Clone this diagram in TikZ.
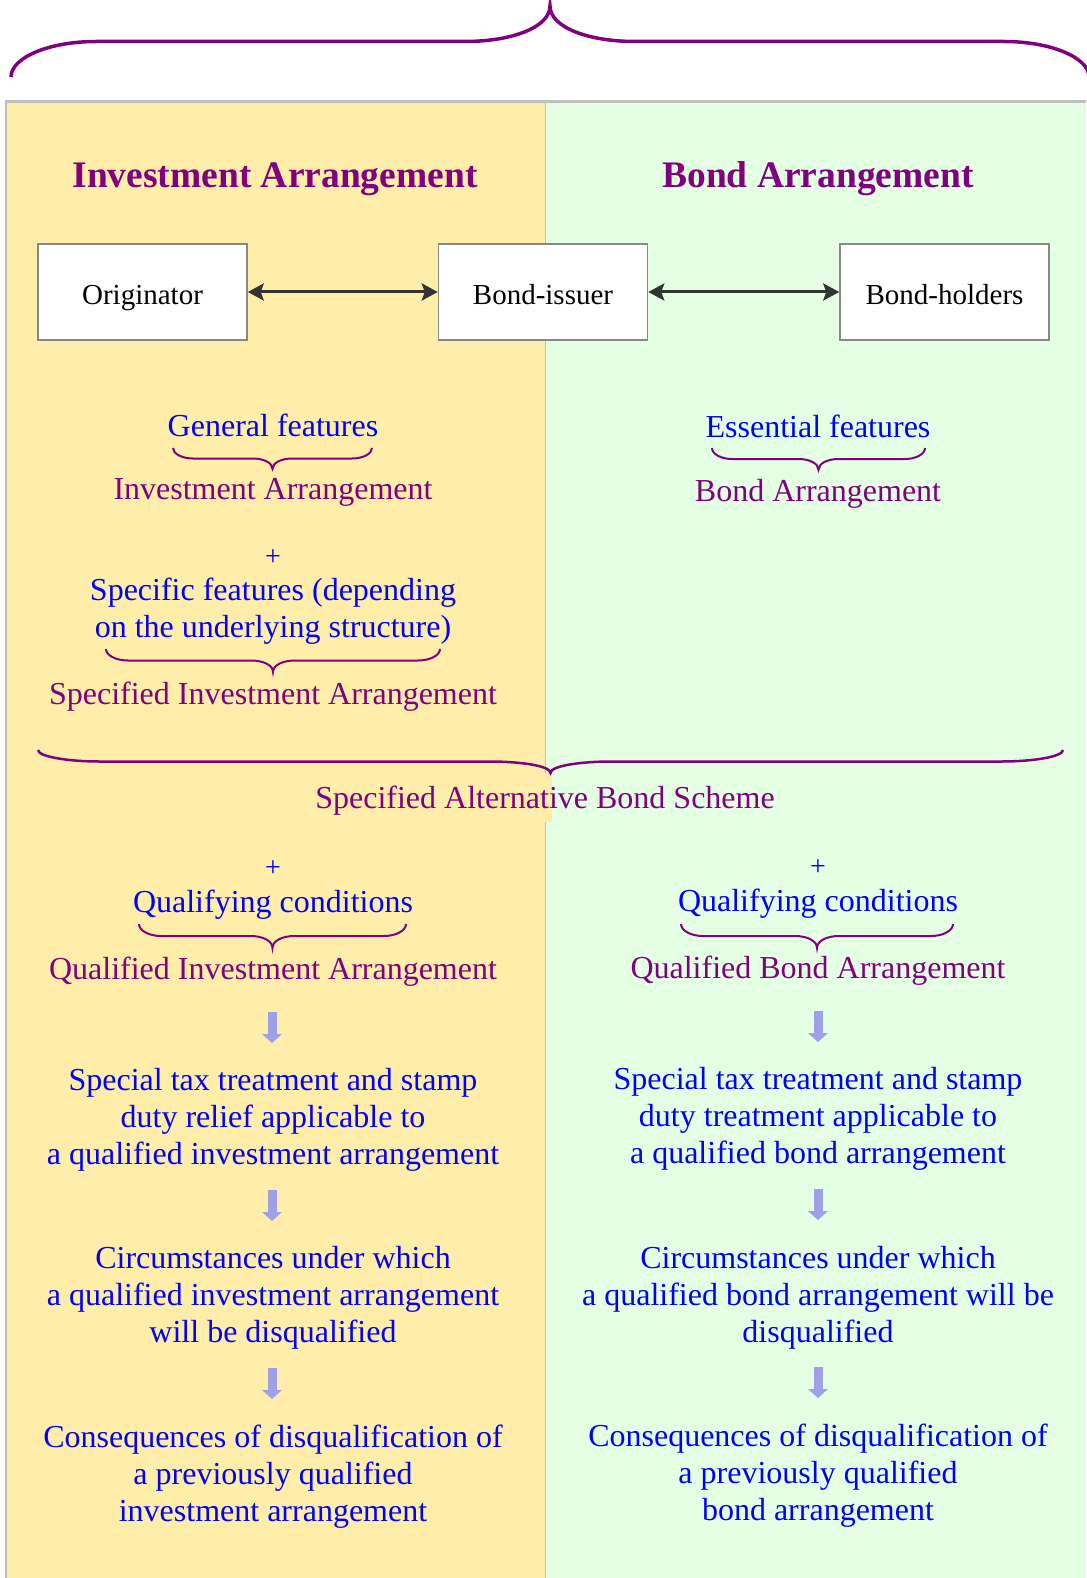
\documentclass[tikz,border=0pt]{standalone}
\usepackage{fontspec}
\setmainfont{Liberation Serif}
\usetikzlibrary{arrows.meta}
\definecolor{yellowc}{RGB}{255,238,170}
\definecolor{greenc}{RGB}{229,255,229}
\definecolor{grayc}{RGB}{191,191,191}
\definecolor{purplec}{RGB}{128,0,128}
\definecolor{bluec}{RGB}{0,0,255}
\definecolor{arrowc}{RGB}{160,160,232}
\definecolor{darkc}{RGB}{51,51,51}
\definecolor{boxc}{RGB}{136,136,136}
\newcommand{\hbrace}[6]{%
  \pgfmathsetmacro{\bxm}{(#1+#2)/2}%
  \pgfmathsetmacro{\byh}{#3+(#4)/2}%
  \pgfmathsetmacro{\byt}{#3+(#4)}%
  \pgfmathsetmacro{\byc}{#3+0.55*(#4)/2}%
  \pgfmathsetmacro{\byd}{#3+(#4)*0.7}%
  \draw[purplec, line width=#6]
    (#1,#3) .. controls (#1,\byc) and (#1+0.45*#5,\byh) .. (#1+#5,\byh)
    -- (\bxm-#5,\byh) .. controls (\bxm-0.45*#5,\byh) and (\bxm,\byd) .. (\bxm,\byt)
    .. controls (\bxm,\byd) and (\bxm+0.45*#5,\byh) .. (\bxm+#5,\byh)
    -- (#2-#5,\byh) .. controls (#2-0.45*#5,\byh) and (#2,\byc) .. (#2,#3);}
\newcommand{\downarr}[3]{%
  \coordinate (#1) at (#2,#3);
  \fill[arrowc] (#2-4.5,#3) rectangle (#2+4.5,#3+23);
  \fill[arrowc] (#2-10,#3+22) -- (#2+10,#3+22) -- (#2,#3+31) -- cycle;}
\tikzset{
  body/.style={inner sep=0pt, align=center, font=\fontsize{32}{37}\selectfont},
  bluet/.style={body, text=bluec},
  purplet/.style={body, text=purplec},
  plust/.style={inner sep=0pt, text=bluec, font=\fontsize{28}{32}\selectfont},
  title/.style={inner sep=0pt, text=purplec, font=\fontsize{37.5}{42}\selectfont\bfseries},
  entity/.style={draw=boxc, line width=1.5pt, fill=white, minimum width=209pt, minimum height=96pt, inner sep=0pt, text height=25pt, text depth=0pt, font=\fontsize{29}{34}\selectfont},
  link/.style={darkc, line width=3pt, {Stealth[length=16pt,width=17pt,inset=3pt]}-{Stealth[length=16pt,width=17pt,inset=3pt]}}
}
\begin{document}
\begin{tikzpicture}[x=1pt,y=-1pt]
\useasboundingbox (0,0) rectangle (1086,1578);
% panels
\fill[yellowc] (7,103) rectangle (545,1578);
\fill[greenc] (545,103) rectangle (1086,1578);
\fill[grayc] (5,100) rectangle (1086,103);
\fill[grayc] (5,100) rectangle (7,1578);
\fill[grayc] (544.5,103) rectangle (546,1578);
\fill[yellowc] (544,773) rectangle (552,822);
% top brace
\hbrace{11}{1089}{77}{-71}{85}{3.5pt}
% titles
\node[title] (tia) at (275,179) {Investment Arrangement};
\node[title] (tba) at (818,179) {Bond Arrangement};
% entities
\node[entity] (orig) at (142.5,292) {Originator};
\node[entity] (issuer) at (543,292) {Bond-issuer};
\node[entity] (holders) at (944.5,292) {Bond-holders};
\draw[link] (orig) -- (issuer);
\draw[link] (issuer) -- (holders);
% left upper
\node[bluet] (gf) at (273,425) {General features};
\hbrace{173}{372}{448}{21}{20}{2pt}
\node[purplet] (ia) at (273,492) {Investment Arrangement};
\node[plust] (plus1) at (273,558) {+};
\node[bluet] (sf) at (273,611) {Specific features (depending\\on the underlying structure)};
\hbrace{106}{440}{649}{23}{22}{2pt}
\node[purplet] (sia) at (273,697) {Specified Investment Arrangement};
% right upper
\node[bluet] (ef) at (818,426) {Essential features};
\hbrace{712}{925}{448}{22}{20}{2pt}
\node[purplet] (ba) at (818,494) {Bond Arrangement};
% middle brace
\hbrace{38}{1063}{750}{23}{62}{2.5pt}
\node[purplet] (sabs) at (545,801) {Specified Alternative Bond Scheme};
% left lower
\node[plust] (plus2) at (273,869) {+};
\node[bluet] (qc1) at (273,905) {Qualifying conditions};
\hbrace{139}{406}{924}{24}{22}{2pt}
\node[purplet] (qia) at (273,972) {Qualified Investment Arrangement};
\downarr{a1}{272}{1012}
\node[bluet] (st1) at (273,1120) {Special tax treatment and stamp\\duty relief applicable to\\a qualified investment arrangement};
\downarr{a2}{272}{1190}
\node[bluet] (ci1) at (273,1298) {Circumstances under which\\a qualified investment arrangement\\will be disqualified};
\downarr{a3}{272}{1368}
\node[bluet] (co1) at (273,1477) {Consequences of disqualification of\\a previously qualified\\investment arrangement};
% right lower
\node[plust] (plus3) at (818,868) {+};
\node[bluet] (qc2) at (818,904) {Qualifying conditions};
\hbrace{681}{953}{924}{24}{22}{2pt}
\node[purplet] (qba) at (818,971) {Qualified Bond Arrangement};
\downarr{b1}{818}{1011}
\node[bluet] (st2) at (818,1119) {Special tax treatment and stamp\\duty treatment applicable to\\a qualified bond arrangement};
\downarr{b2}{818}{1189}
\node[bluet] (ci2) at (818,1298) {Circumstances under which\\a qualified bond arrangement will be\\disqualified};
\downarr{b3}{818}{1367}
\node[bluet] (co2) at (818,1476) {Consequences of disqualification of\\a previously qualified\\bond arrangement};
\end{tikzpicture}
\end{document}
